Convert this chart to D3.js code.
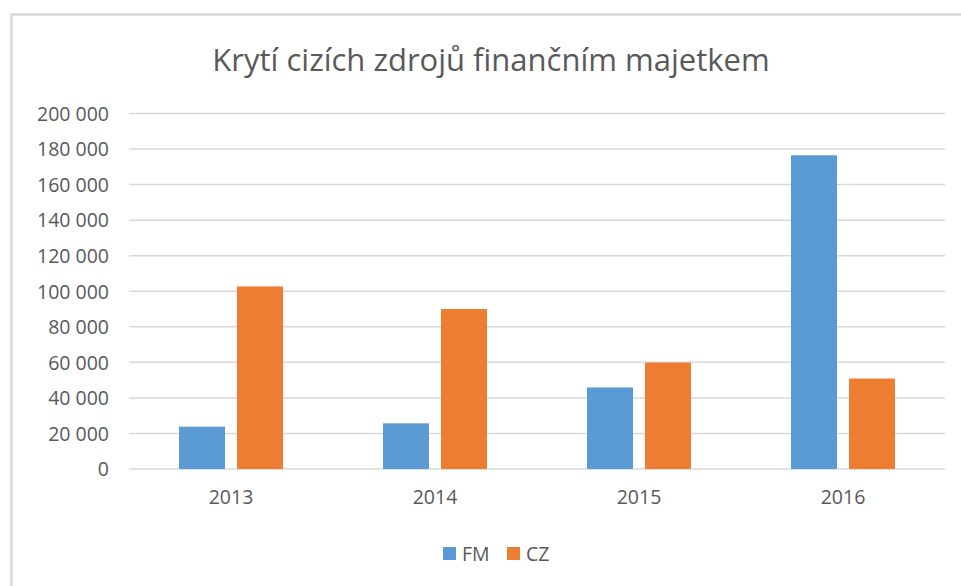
<!DOCTYPE html>
<html>
<head>
<meta charset="utf-8">
<script src="https://cdn.jsdelivr.net/npm/d3@7"></script>
<style>
  html, body { margin: 0; padding: 0; background: #ffffff; }
  svg { display: block; }
</style>
</head>
<body>
<svg id="chart" width="961" height="586"></svg>
<script>
const years = ["2013", "2014", "2015", "2016"];
const seriesNames = ["FM", "CZ"];
const fmValues = [23800, 25700, 45900, 176500];
const czValues = [102700, 90000, 59900, 50900];
const yTicks = [0, 20000, 40000, 60000, 80000, 100000, 120000, 140000, 160000, 180000, 200000];
const seriesColors = ["#5B9BD5", "#ED7D31"];
const titleText = "Krytí cizích zdrojů finančním majetkem";

const svg = d3.select("#chart");
const W = 961, H = 586;
const plot = { left: 129, right: 945, top: 113.5, bottom: 469 };
const textColor = "#595959";
const font = "'Open Sans', 'Liberation Sans', sans-serif";

// chart frame
svg.append("rect").attr("x", 0).attr("y", 0).attr("width", W).attr("height", H).attr("fill", "#fff");
svg.append("rect")
  .attr("x", 11.5).attr("y", 14.5)
  .attr("width", W + 20).attr("height", H + 20)
  .attr("fill", "#fff")
  .attr("stroke", "#d9d9d9").attr("stroke-width", 2.5);

const data = years.map((y, i) => ({ year: y, FM: fmValues[i], CZ: czValues[i] }));

const x = d3.scaleBand().domain(years).range([plot.left, plot.right]).paddingInner(0).paddingOuter(0);
const xInner = d3.scaleBand().domain(seriesNames).range([0, x.bandwidth()])
  .paddingInner(0.207).paddingOuter(0.862);
const y = d3.scaleLinear().domain([0, 200000]).range([plot.bottom, plot.top]);
const color = d3.scaleOrdinal().domain(seriesNames).range(seriesColors);

const loc = d3.formatLocale({ decimal: ",", thousands: "\u00a0", grouping: [3], currency: ["", ""] });
const fmt = loc.format(",d");

// gridlines
svg.append("g").selectAll("line").data(yTicks).join("line")
  .attr("x1", plot.left).attr("x2", plot.right)
  .attr("y1", d => y(d)).attr("y2", d => y(d))
  .attr("stroke", "#d9d9d9").attr("stroke-width", 1.5);

// y axis labels
const yAxis = d3.axisLeft(y).tickValues(yTicks).tickFormat(fmt).tickSize(0).tickPadding(0);
const gy = svg.append("g").attr("transform", "translate(109,0)").call(yAxis);
gy.select(".domain").remove();
gy.selectAll("text").attr("fill", textColor).attr("font-family", font).attr("font-size", 19.5)
  .attr("dy", "0.35em");

// x axis labels
const xAxis = d3.axisBottom(x).tickSize(0).tickPadding(0);
const gx = svg.append("g").attr("transform", "translate(0,489)").call(xAxis);
gx.select(".domain").remove();
gx.selectAll("text").attr("fill", textColor).attr("font-family", font).attr("font-size", 19.5)
  .attr("dy", "0.75em");

// bars
const groups = svg.append("g").selectAll("g").data(data).join("g")
  .attr("transform", d => `translate(${x(d.year)},0)`);
groups.selectAll("rect").data(d => seriesNames.map(s => ({ key: s, value: d[s] }))).join("rect")
  .attr("x", d => xInner(d.key))
  .attr("width", xInner.bandwidth())
  .attr("y", d => y(d.value))
  .attr("height", d => y(0) - y(d.value))
  .attr("fill", d => color(d.key));

// title
svg.append("text")
  .attr("x", 491).attr("y", 71)
  .attr("text-anchor", "middle")
  .attr("fill", textColor)
  .attr("font-family", font)
  .attr("font-size", 31)
  .text(titleText);

// legend
const legend = svg.append("g");
const legendItems = [{ key: "FM", x: 443 }, { key: "CZ", x: 507 }];
legendItems.forEach(it => {
  legend.append("rect").attr("x", it.x).attr("y", 547).attr("width", 13).attr("height", 13)
    .attr("fill", color(it.key));
  legend.append("text").attr("x", it.x + 19).attr("y", 561)
    .attr("fill", textColor).attr("font-family", font).attr("font-size", 19.5)
    .text(it.key);
});
</script>
</body>
</html>
